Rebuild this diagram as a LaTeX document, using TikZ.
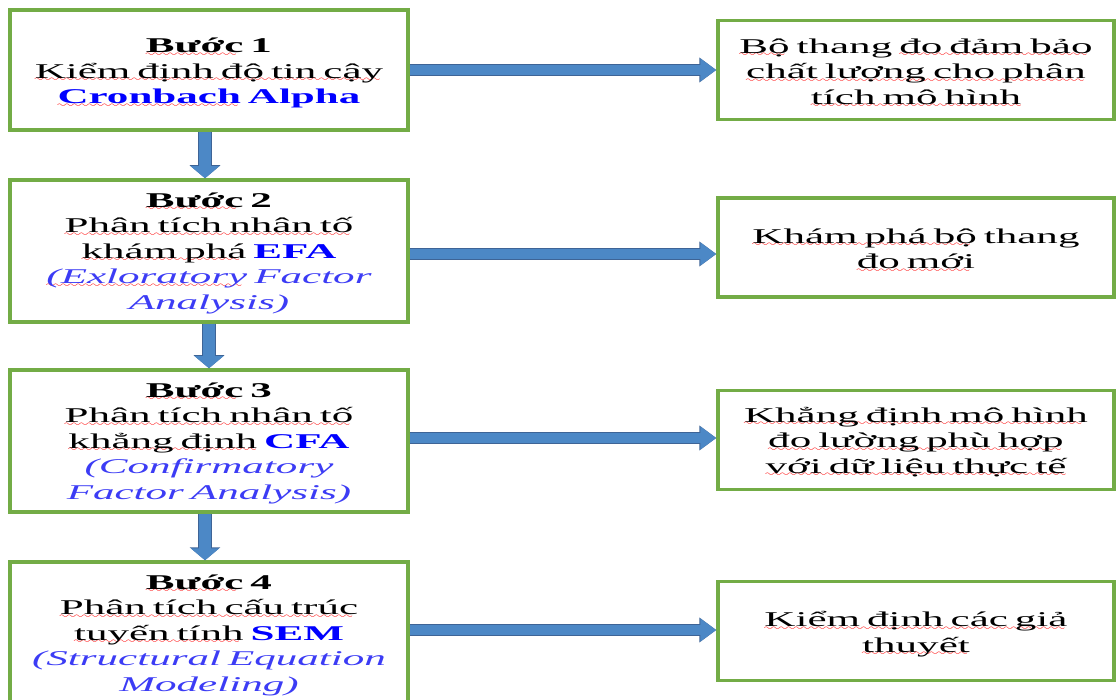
\documentclass[tikz,border=0pt]{standalone}
\usepackage{fontspec}
\setmainfont{Liberation Serif}[FakeStretch=2.05]
\usetikzlibrary{arrows.meta}
\definecolor{boxgreen}{RGB}{115,172,70}
\definecolor{arrfill}{RGB}{76,136,198}
\definecolor{arrline}{RGB}{62,100,150}
\definecolor{itblue}{RGB}{60,60,245}
\font\rwfont=lasy6 scaled 1500
\newcommand\rw[1]{\leavevmode\setbox0\hbox{#1}\rlap{\lower3.6pt\hbox to \wd0{\color{red}\leaders\hbox{\rwfont\char58}\hfill}}\box0\relax}
\newcommand\bl[1]{\textbf{\color{blue}#1}}
\newcommand\itb[1]{\textit{\color{itblue}#1}}
\tikzset{
  stepbox/.style={draw=boxgreen, line width=3.5pt, fill=white, minimum width=398pt, inner sep=0pt},
  resbox/.style={draw=boxgreen, line width=3.5pt, fill=white, minimum width=396pt,
    minimum height=99pt, inner sep=0pt},
  boxtext/.style={align=center, text width=390pt, inner sep=0pt,
    font=\fontsize{21}{25.5}\selectfont},
  harrow/.style={arrfill, line width=10pt, -{Triangle[width=22pt,length=16pt]},
    preaction={draw=arrline, line width=11.5pt, -{Triangle[width=24pt,length=17pt]}}},
  varrow/.style={arrfill, line width=12pt, -{Triangle[width=28pt,length=12pt]},
    preaction={draw=arrline, line width=13.5pt, -{Triangle[width=30pt,length=13pt]}}},
}
\begin{document}
\begin{tikzpicture}[x=1pt,y=-1pt]
\useasboundingbox (0,0) rectangle (1116,700);
\clip (0,0) rectangle (1116,700);
% left step boxes
\node[stepbox, minimum height=120pt] (b1) at (209,70) {};
\node[stepbox, minimum height=142pt] (b2) at (209,251) {};
\node[stepbox, minimum height=142pt] (b3) at (209,441) {};
\node[stepbox, minimum height=142pt] (b4) at (209,633) {};
\node[boxtext] (b1t) at ([yshift=-3pt]b1.center)
  {\textbf{\rw{Bước} 1}\\ \rw{Kiểm định độ tin cậy}\\ \bl{\rw{Cronbach} Alpha}};
\node[boxtext] (b2t) at ([yshift=-2pt]b2.center)
  {\textbf{\rw{Bước} 2}\\ \rw{Phân tích nhân tố}\\ \rw{khám phá} \bl{EFA}\\ \itb{\rw{(Exloratory} Factor}\\ \itb{Analysis)}};
\node[boxtext] (b3t) at ([yshift=-2pt]b3.center)
  {\textbf{\rw{Bước} 3}\\ \rw{Phân tích nhân tố}\\ \rw{khẳng định} \bl{CFA}\\ \itb{(Confirmatory}\\ \itb{Factor Analysis)}};
\node[boxtext] (b4t) at ([yshift=-2pt]b4.center)
  {\textbf{\rw{Bước} 4}\\ \rw{Phân tích cấu trúc}\\ \rw{tuyến tính} \bl{SEM}\\ \itb{(Structural Equation}\\ \itb{Modeling)}};
% right result boxes
\node[resbox] (r1) at (916,70) {};
\node[resbox] (r2) at (916,247.5) {};
\node[resbox] (r3) at (916,440) {};
\node[resbox] (r4) at (916,631) {};
\node[boxtext] (r1t) at ([yshift=-3pt]r1.center)
  {\rw{Bộ} thang \rw{đo đảm bảo}\\ \rw{chất lượng cho phân}\\ \rw{tích mô hình}};
\node[boxtext] (r2t) at ([yshift=-3pt]r2.center)
  {\rw{Khám phá bộ} thang\\ \rw{đo mới}};
\node[boxtext] (r3t) at ([yshift=-2pt]r3.center)
  {\rw{Khẳng định mô hình}\\ \rw{đo lường phù hợp}\\ \rw{với dữ liệu thực tế}};
\node[boxtext] (r4t) at ([yshift=-3pt]r4.center)
  {\rw{Kiểm định các giả}\\ \rw{thuyết}};
% vertical arrows
\draw[varrow] ([xshift=-4pt]b1.south) -- ([xshift=-4pt]b2.north);
\draw[varrow] (b2.south) -- (b3.north);
\draw[varrow] ([xshift=-4pt]b3.south) -- ([xshift=-4pt]b4.north);
% horizontal arrows
\draw[harrow] (b1.east) -- (r1.west);
\draw[harrow] ([yshift=-3pt]b2.east) -- ([yshift=-3pt]r2.west|-b2.east);
\draw[harrow] ([yshift=3pt]b3.east) -- ([yshift=3pt]r3.west|-b3.east);
\draw[harrow] ([yshift=3pt]b4.east) -- ([yshift=3pt]r4.west|-b4.east);
\end{tikzpicture}
\end{document}
